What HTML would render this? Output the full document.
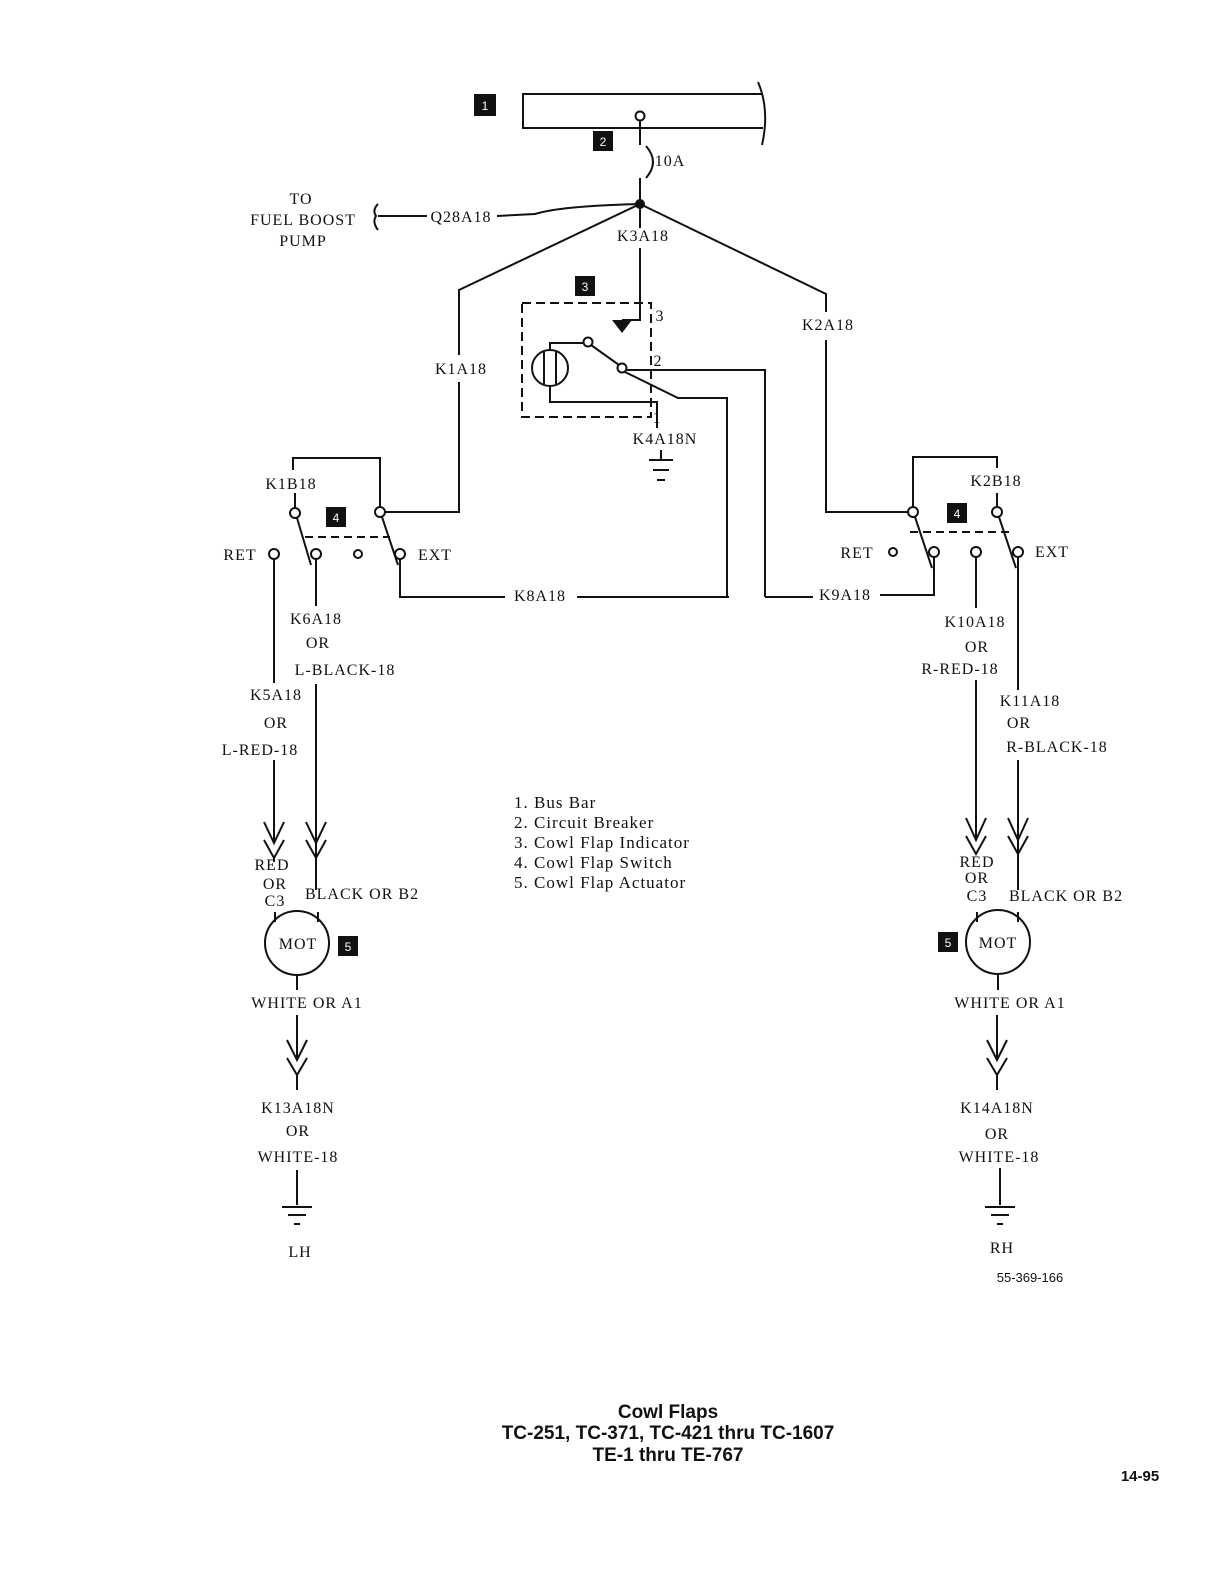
<!DOCTYPE html>
<html><head><meta charset="utf-8"><style>
html,body{margin:0;padding:0;background:#fff}
svg{display:block}
text{font-family:"Liberation Serif",serif;font-size:16px;fill:#111;letter-spacing:1px}
.s{font-family:"Liberation Sans",sans-serif;font-weight:bold;letter-spacing:0}
.bx{fill:#111}
.bn{fill:#fff;font-family:"Liberation Sans",sans-serif;font-size:12px;letter-spacing:0}
</style></head><body>
<svg width="1220" height="1584" viewBox="0 0 1220 1584" xmlns="http://www.w3.org/2000/svg">
<g stroke="#111" stroke-width="2" fill="none">
<path d="M763,94 L523,94 L523,128 L763,128"/>
<path d="M758,82 Q770,110 762,145"/>
<circle cx="640" cy="116" r="4.5"/>
<path d="M640,121 V145 M640,178 V204"/>
<path d="M646,146 Q660,162 646,178"/>
<path d="M640,204 Q560,206 535,214 L497,216"/>
<path d="M378,216 H427"/>
<path d="M378,204 Q372,210 376,216 Q372,222 378,230"/>
<path d="M640,204 L459,290 V355 M459,382 V512 H385"/>
<path d="M640,204 L826,294 V312 M826,340 V512 H908"/>
<path d="M640,248 V320 H622"/>
<path d="M640,204 V228"/>
<polygon points="612,320 632,320 622,333" fill="#111" stroke="none"/>
<path d="M522,303 H651 V417 H522 Z" stroke-dasharray="9,5"/>
<circle cx="550" cy="368" r="18"/>
<path d="M544,352 V384 M556,352 V384"/>
<path d="M550,350 V343 H583"/>
<circle cx="588" cy="342" r="4.5"/>
<path d="M591,345 L619,365"/>
<circle cx="622" cy="368" r="4.5"/>
<path d="M627,370 H765 V597"/>
<path d="M625,372 L678,398 H727 V597"/>
<path d="M550,386 V402 H657 V428"/>
<path d="M661,450 V460 M649,460 H673 M653,470 H669 M657,480 H665"/>
<path d="M293,470 V458 H380 V507 M295,493 V508"/>
<circle cx="295" cy="513" r="5"/>
<circle cx="380" cy="512" r="5"/>
<circle cx="274" cy="554" r="5"/>
<circle cx="316" cy="554" r="5"/>
<circle cx="358" cy="554" r="4"/>
<circle cx="400" cy="554" r="5"/>
<path d="M297,518 L311,565 M382,517 L398,565"/>
<path d="M305,537 H390" stroke-dasharray="8,5"/>
<path d="M274,559 V683 M274,760 V843"/>
<path d="M316,559 V606 M316,684 V890"/>
<path d="M400,559 V597 H505 M577,597 H729"/>
<path d="M913,507 V457 H997 V468"/>
<circle cx="913" cy="512" r="5"/>
<circle cx="997" cy="512" r="5"/>
<path d="M997,493 V507"/>
<circle cx="893" cy="552" r="4"/>
<circle cx="934" cy="552" r="5"/>
<circle cx="976" cy="552" r="5"/>
<circle cx="1018" cy="552" r="5"/>
<path d="M915,517 L932,568 M999,517 L1016,568"/>
<path d="M910,532 H1012" stroke-dasharray="8,5"/>
<path d="M934,557 V595 H880 M765,597 H813"/>
<path d="M976,557 V608 M976,680 V840"/>
<path d="M1018,557 V690 M1018,760 V890"/>
<path d="M264,822 L274,843 L284,822 M264,840 L274,858 L284,840 M274,858 V862"/>
<path d="M306,822 L316,843 L326,822 M306,840 L316,858 L326,840"/>
<path d="M275,912 V922 M318,912 V922"/>
<circle cx="297" cy="943" r="32"/>
<path d="M297,975 V990 M297,1015 V1060"/>
<path d="M287,1040 L297,1060 L307,1040 M287,1058 L297,1075 L307,1058 M297,1075 V1090"/>
<path d="M297,1170 V1205 M282,1207 H312 M288,1215 H306 M294,1224 H300"/>
<path d="M966,818 L976,840 L986,818 M966,836 L976,854 L986,836"/>
<path d="M1008,818 L1018,840 L1028,818 M1008,836 L1018,854 L1028,836"/>
<path d="M977,912 V922 M1018,912 V922"/>
<circle cx="998" cy="942" r="32"/>
<path d="M998,974 V990 M997,1015 V1060"/>
<path d="M987,1040 L997,1060 L1007,1040 M987,1058 L997,1075 L1007,1058 M997,1075 V1090"/>
<path d="M1000,1168 V1205 M985,1207 H1015 M991,1215 H1009 M997,1224 H1003"/>
</g>
<circle cx="640" cy="204" r="5" fill="#111"/>
<rect class="bx" x="474" y="94" width="22" height="22"/><text class="bn" x="485" y="110" text-anchor="middle">1</text>
<rect class="bx" x="593" y="131" width="20" height="20"/><text class="bn" x="603" y="146" text-anchor="middle">2</text>
<rect class="bx" x="575" y="276" width="20" height="20"/><text class="bn" x="585" y="291" text-anchor="middle">3</text>
<rect class="bx" x="326" y="507" width="20" height="20"/><text class="bn" x="336" y="522" text-anchor="middle">4</text>
<rect class="bx" x="947" y="503" width="20" height="20"/><text class="bn" x="957" y="518" text-anchor="middle">4</text>
<rect class="bx" x="338" y="936" width="20" height="20"/><text class="bn" x="348" y="951" text-anchor="middle">5</text>
<rect class="bx" x="938" y="932" width="20" height="20"/><text class="bn" x="948" y="947" text-anchor="middle">5</text>
<g text-anchor="middle">
<text x="670" y="166">10A</text>
<text x="301" y="204">TO</text>
<text x="303" y="225">FUEL BOOST</text>
<text x="303" y="246">PUMP</text>
<text x="461" y="222">Q28A18</text>
<text x="643" y="241">K3A18</text>
<text x="461" y="374">K1A18</text>
<text x="828" y="330">K2A18</text>
<text x="660" y="321">3</text>
<text x="658" y="366">2</text>
<text x="657" y="423">1</text>
<text x="665" y="444">K4A18N</text>
<text x="291" y="489">K1B18</text>
<text x="996" y="486">K2B18</text>
<text x="240" y="560">RET</text>
<text x="435" y="560">EXT</text>
<text x="857" y="558">RET</text>
<text x="1052" y="557">EXT</text>
<text x="540" y="601">K8A18</text>
<text x="845" y="600">K9A18</text>
<text x="316" y="624">K6A18</text>
<text x="318" y="648">OR</text>
<text x="345" y="675">L-BLACK-18</text>
<text x="276" y="700">K5A18</text>
<text x="276" y="728">OR</text>
<text x="260" y="755">L-RED-18</text>
<text x="975" y="627">K10A18</text>
<text x="977" y="652">OR</text>
<text x="960" y="674">R-RED-18</text>
<text x="1030" y="706">K11A18</text>
<text x="1019" y="728">OR</text>
<text x="1057" y="752">R-BLACK-18</text>
<text x="272" y="870">RED</text>
<text x="275" y="889">OR</text>
<text x="275" y="906">C3</text>
<text x="362" y="899">BLACK OR B2</text>
<text x="298" y="949">MOT</text>
<text x="307" y="1008">WHITE OR A1</text>
<text x="298" y="1113">K13A18N</text>
<text x="298" y="1136">OR</text>
<text x="298" y="1162">WHITE-18</text>
<text x="300" y="1257">LH</text>
<text x="977" y="867">RED</text>
<text x="977" y="883">OR</text>
<text x="977" y="901">C3</text>
<text x="1066" y="901">BLACK OR B2</text>
<text x="998" y="948">MOT</text>
<text x="1010" y="1008">WHITE OR A1</text>
<text x="997" y="1113">K14A18N</text>
<text x="997" y="1139">OR</text>
<text x="999" y="1162">WHITE-18</text>
<text x="1002" y="1253">RH</text>
<text class="s" x="1030" y="1282" style="font-size:13px;font-weight:normal">55-369-166</text>
<text class="s" x="668" y="1418" style="font-size:19px">Cowl Flaps</text>
<text class="s" x="668" y="1439" style="font-size:19px">TC-251, TC-371, TC-421 thru TC-1607</text>
<text class="s" x="668" y="1461" style="font-size:19px">TE-1 thru TE-767</text>
<text class="s" x="1140" y="1481" style="font-size:15px">14-95</text>
</g>
<g style="font-size:17px">
<text x="514" y="808" style="font-size:17px">1.  Bus Bar</text>
<text x="514" y="828" style="font-size:17px">2.  Circuit Breaker</text>
<text x="514" y="848" style="font-size:17px">3.  Cowl Flap Indicator</text>
<text x="514" y="868" style="font-size:17px">4.  Cowl Flap Switch</text>
<text x="514" y="888" style="font-size:17px">5.  Cowl Flap Actuator</text>
</g>
</svg>
</body></html>
